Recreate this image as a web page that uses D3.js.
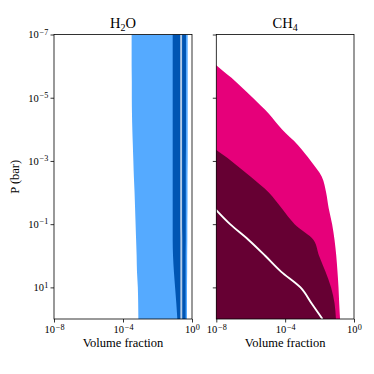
<!DOCTYPE html>
<html>
<head>
<meta charset="utf-8">
<script src="https://cdn.jsdelivr.net/npm/d3@7"></script>
<style>
  body { margin: 0; background: #fff; }
  text { font-family: "Liberation Serif", "DejaVu Serif", serif; fill: #000; }
</style>
</head>
<body>
<div id="chart"></div>
<script>
// log10 pressure grid (bar)
const logP = [-7, -6.5, -6, -5.5, -5, -4.5, -4, -3.5, -3, -2.5, -2, -1.5, -1, -0.5, 0, 0.5, 1, 1.5, 2];

// H2O, log10 volume fraction
const h2oLow2  = [-3.50, -3.50, -3.50, -3.49, -3.49, -3.48, -3.46, -3.43, -3.40, -3.37, -3.33, -3.30, -3.27, -3.24, -3.21, -3.19, -3.14, -3.12, -3.11];
const h2oHigh2 = [-0.25, -0.25, -0.25, -0.25, -0.25, -0.25, -0.25, -0.25, -0.25, -0.26, -0.26, -0.26, -0.27, -0.27, -0.28, -0.28, -0.29, -0.29, -0.29];
const h2oLow1  = [-1.12, -1.12, -1.12, -1.12, -1.12, -1.12, -1.12, -1.12, -1.12, -1.12, -1.12, -1.12, -1.12, -1.12, -1.10, -1.05, -0.98, -0.91, -0.85];
const h2oHigh1 = [-0.35, -0.35, -0.35, -0.35, -0.35, -0.35, -0.35, -0.35, -0.36, -0.36, -0.36, -0.36, -0.36, -0.36, -0.37, -0.37, -0.37, -0.37, -0.37];
const h2oMed   = [-0.63, -0.63, -0.63, -0.63, -0.63, -0.63, -0.63, -0.63, -0.63, -0.63, -0.63, -0.63, -0.63, -0.62, -0.62, -0.62, -0.62, -0.62, -0.62];

// CH4, log10 volume fraction
const ch4Low2  = [-13, -13, -13, -13, -13, -13, -13, -13, -13, -13, -13, -13, -13, -13, -13, -13, -13, -13, -13];
const ch4High2 = [-10.0, -8.98, -7.95, -6.85, -5.88, -4.96, -4.19, -3.25, -2.51, -1.87, -1.62, -1.47, -1.27, -1.13, -1.03, -0.96, -0.90, -0.86, -0.81];
const ch4Low1  = [-13, -13, -13, -13, -13, -13, -13, -13, -13, -13, -13, -13, -13, -13, -13, -13, -13, -13, -13];
const ch4High1 = [-12.5, -12.0, -11.3, -10.6, -10.0, -9.5, -9.0, -8.34, -7.13, -6.00, -4.95, -4.20, -3.45, -2.35, -2.03, -1.66, -1.33, -1.13, -1.05];
const ch4Med   = [null, null, null, null, null, null, null, null, null, null, null, -8.10, -7.20, -6.12, -5.16, -4.24, -3.11, -2.47, -1.83];

const xTicks = [1e-8, 1e-4, 1e0];
const yTicks = [1e-7, 1e-5, 1e-3, 1e-1, 1e1];

const width = 374, height = 374,
    plotTop = 34.5, plotBottom = 319;

const panels = [
    { base: 'H', sub: '2', tail: 'O', x0: 54, x1: 192,
      light: '#55aaff', dark: '#0055b3',
      low2: h2oLow2, high2: h2oHigh2, low1: h2oLow1, high1: h2oHigh1, med: h2oMed, medOpacity: 0.7, yLabels: true },
    { base: 'CH', sub: '4', tail: '', x0: 216.3, x1: 354,
      light: '#e6007a', dark: '#660033',
      low2: ch4Low2, high2: ch4High2, low1: ch4Low1, high1: ch4High1, med: ch4Med, medOpacity: 1, yLabels: false }
];

let svg = d3.select('#chart').append('svg')
    .attr('width', width)
    .attr('height', height);

let y = d3.scaleLog().domain([1e-7, 1e2]).range([plotTop, plotBottom]);

function powerLabel(sel) {
    sel.each(function(d) {
        const e = Math.round(Math.log10(d));
        const t = d3.select(this).text(null);
        t.append('tspan').text('10');
        t.append('tspan')
            .attr('dy', '-0.45em')
            .attr('dx', e < 0 ? 0.8 : 0.3)
            .attr('font-size', '0.78em')
            .text(e < 0 ? '\u2212' + (-e) : e);
    });
}

panels.forEach((p, k) => {
    let x = d3.scaleLog().domain([1e-8, 1]).range([p.x0, p.x1]);
    let rows = logP.map((e, i) => ({
        p: Math.pow(10, e),
        lo2: p.low2[i], hi2: p.high2[i],
        lo1: p.low1[i], hi1: p.high1[i],
        med: p.med[i]
    }));

    svg.append('clipPath').attr('id', 'clip' + k)
        .append('rect')
        .attr('x', p.x0).attr('y', plotTop)
        .attr('width', p.x1 - p.x0).attr('height', plotBottom - plotTop);

    let g = svg.append('g').attr('clip-path', 'url(#clip' + k + ')');

    let band = (lo, hi) => d3.area()
        .curve(d3.curveMonotoneY)
        .y(d => y(d.p))
        .x0(d => x(Math.pow(10, d[lo])))
        .x1(d => x(Math.pow(10, d[hi])));

    g.append('path').datum(rows)
        .attr('d', band('lo2', 'hi2'))
        .attr('fill', p.light);

    g.append('path').datum(rows)
        .attr('d', band('lo1', 'hi1'))
        .attr('fill', p.dark);

    g.append('path').datum(rows)
        .attr('d', d3.line()
            .curve(d3.curveMonotoneY)
            .defined(d => d.med !== null)
            .y(d => y(d.p))
            .x(d => x(Math.pow(10, d.med))))
        .attr('fill', 'none')
        .attr('stroke', '#fff')
        .attr('stroke-opacity', p.medOpacity)
        .attr('stroke-width', 1.9);

    // axes
    let xAxis = svg.append('g')
        .attr('transform', 'translate(0,' + plotBottom + ')')
        .call(d3.axisBottom(x).tickValues(xTicks).tickSize(3.5).tickPadding(3.4));
    let yAxis = svg.append('g')
        .attr('transform', 'translate(' + p.x0 + ',0)')
        .call(d3.axisLeft(y).tickValues(yTicks).tickSize(3.5).tickPadding(2.2));

    [xAxis, yAxis].forEach(a => {
        a.select('.domain').remove();
        a.selectAll('.tick line').attr('stroke', '#000').attr('stroke-width', 0.8);
        a.selectAll('.tick text')
            .attr('font-family', null)
            .attr('font-size', 10.5)
            .call(powerLabel);
    });
    if (!p.yLabels) yAxis.selectAll('.tick text').remove();

    // spines
    svg.append('rect')
        .attr('x', p.x0).attr('y', plotTop)
        .attr('width', p.x1 - p.x0).attr('height', plotBottom - plotTop)
        .attr('fill', 'none')
        .attr('stroke', '#000')
        .attr('stroke-width', 0.8);

    // title
    let title = svg.append('text')
        .attr('x', (p.x0 + p.x1) / 2)
        .attr('y', 28)
        .attr('text-anchor', 'middle')
        .attr('font-size', 14.5);
    title.append('tspan').text(p.base);
    title.append('tspan').attr('dy', 3).attr('font-size', 10).text(p.sub);
    if (p.tail) title.append('tspan').attr('dy', -3).text(p.tail);

    svg.append('text')
        .attr('x', (p.x0 + p.x1) / 2)
        .attr('y', 346.7)
        .attr('text-anchor', 'middle')
        .attr('font-size', 12.5)
        .text('Volume fraction');
});

svg.append('text')
    .attr('transform', 'translate(19,' + (plotTop + plotBottom) / 2 + ') rotate(-90)')
    .attr('text-anchor', 'middle')
    .attr('font-size', 12.5)
    .text('P (bar)');
</script>
</body>
</html>
